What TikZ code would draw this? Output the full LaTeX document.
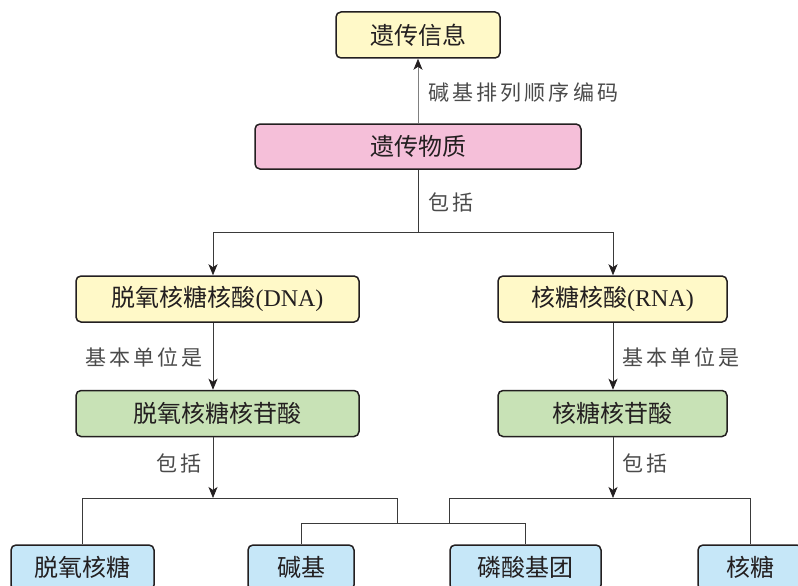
\documentclass[tikz,border=0pt]{standalone}
\usepackage{fontspec}
\setmainfont{Liberation Serif}
\newfontfamily\cjk{Noto Sans CJK SC}
\newfontfamily\cjklab[LetterSpace=15]{Noto Sans CJK SC}
\usetikzlibrary{arrows.meta}
\definecolor{cyel}{HTML}{FFF9C8}
\definecolor{cpink}{HTML}{F5BFD9}
\definecolor{cgreen}{HTML}{C8E2B6}
\definecolor{cblue}{HTML}{C6E7F8}
\definecolor{cborder}{HTML}{231F20}
\definecolor{cline}{HTML}{3A3A3A}
\definecolor{clab}{HTML}{4A4A4A}
\tikzset{
  box/.style={draw=cborder, line width=1.5pt, rounded corners=5pt, inner sep=0pt,
    text=cborder, font=\fontsize{24}{28}\selectfont\cjk},
  ybox/.style={box, fill=cyel},
  pbox/.style={box, fill=cpink},
  gbox/.style={box, fill=cgreen},
  bbox/.style={box, fill=cblue},
  conn/.style={draw=cline, line width=0.8pt},
  arr/.style={conn, -{Stealth[length=11pt,width=9pt,inset=3pt,color=cborder]}},
  lab/.style={inner sep=0pt, text=clab, font=\fontsize{21}{24}\selectfont\cjklab, anchor=west}
}
\begin{document}
\begin{tikzpicture}[x=1pt,y=-1pt]
\useasboundingbox (0,0) rectangle (798,586);
\clip (0,0) rectangle (798,586);
% boxes
\node[ybox, minimum width=164pt, minimum height=46pt] (info) at (418,35) {遗传信息};
\node[pbox, minimum width=326pt, minimum height=45pt] (mat) at (418,146.5) {遗传物质};
\node[ybox, minimum width=283pt, minimum height=46pt] (dna) at (217.5,299) {脱氧核糖核酸{\rmfamily(DNA)}};
\node[ybox, minimum width=229pt, minimum height=46pt] (rna) at (612.5,299) {核糖核酸{\rmfamily(RNA)}};
\node[gbox, minimum width=283pt, minimum height=46pt] (dnt) at (217.5,413.5) {脱氧核糖核苷酸};
\node[gbox, minimum width=229pt, minimum height=46pt] (rnt) at (612.5,413.5) {核糖核苷酸};
\node[bbox, minimum width=143pt, minimum height=45pt] (b1) at (82.5,567.5) {脱氧核糖};
\node[bbox, minimum width=106pt, minimum height=45pt] (b2) at (301,567.5) {碱基};
\node[bbox, minimum width=151pt, minimum height=45pt] (b3) at (525.5,567.5) {磷酸基团};
\node[bbox, minimum width=104pt, minimum height=45pt] (b4) at (750,567.5) {核糖};
% labels
\node[lab] (t1) at (428,93) {碱基排列顺序编码};
\node[lab] (t2) at (428,202) {包括};
\node[lab] (t3) at (85,357) {基本单位是};
\node[lab] (t4) at (622,357) {基本单位是};
\node[lab] (t5) at (156,463) {包括};
\node[lab] (t6) at (622,463) {包括};
% connectors
\coordinate (j0) at (418,232);
\coordinate (jl) at (213,232);
\coordinate (jr) at (613,232);
\coordinate (kl) at (213,498);
\coordinate (kr) at (613,498);
\coordinate (la) at (397,498);
\coordinate (ml) at (397,523);
\coordinate (ra) at (449,498);
\coordinate (mr) at (449,523);
\draw[arr, draw=gray] (mat.north) -- (info.south);
\draw[conn] (mat.south) -- (j0);
\draw[conn] (jl) -- (jr);
\draw[arr] (jl) -- (jl |- dna.north);
\draw[arr] (jr) -- (jr |- rna.north);
\draw[arr] (jl |- dna.south) -- (jl |- dnt.north);
\draw[arr] (jr |- rna.south) -- (jr |- rnt.north);
\draw[arr] (jl |- dnt.south) -- (kl);
\draw[arr] (jr |- rnt.south) -- (kr);
\draw[conn] (b1.north) |- (la) -- (ml);
\draw[conn] (b2.north) |- (b3.north |- ml) -- (b3.north);
\draw[conn] (b4.north) |- (ra) -- (mr);
\end{tikzpicture}
\end{document}
